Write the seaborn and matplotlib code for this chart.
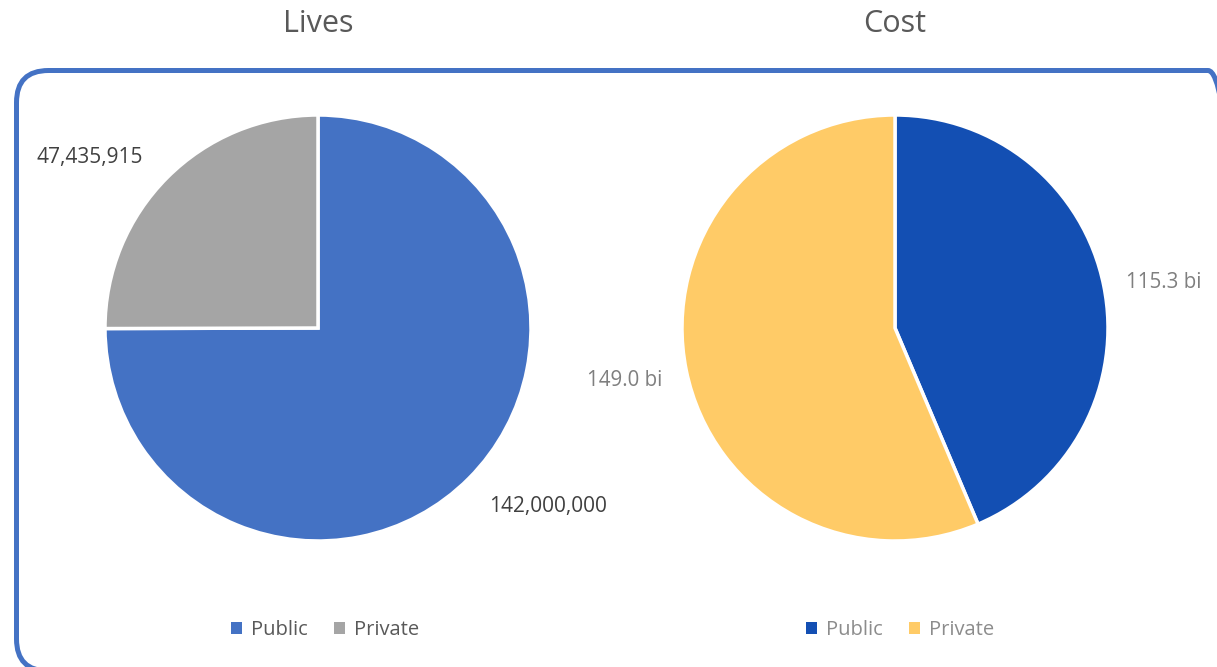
import matplotlib
matplotlib.use("Agg")
import matplotlib.pyplot as plt
from matplotlib.patches import FancyBboxPatch
import seaborn as sns
import numpy as np

# ---- data ----
categories = ["Public", "Private"]
lives_values = [142000000, 47435915]
lives_labels = ["142,000,000", "47,435,915"]
cost_values = [115.3, 149.0]
cost_labels = ["115.3 bi", "149.0 bi"]
titles = ["Lives", "Cost"]

lives_colors = ["#4472C4", "#A5A5A5"]
cost_colors = ["#134FB3", "#FFCB67"]

sns.set_theme(style="white")
plt.rcParams["font.family"] = ["Open Sans", "DejaVu Sans"]
plt.rcParams["savefig.bbox"] = None

W, H = 1217, 667
fig = plt.figure(figsize=(W / 100, H / 100), dpi=100)
fig.patch.set_facecolor("white")

R = 213
def add_pie_axes(cx, cy):
    return fig.add_axes([(cx - R) / W, (H - cy - R) / H, 2 * R / W, 2 * R / H])

ax1 = add_pie_axes(318, 328)
ax2 = add_pie_axes(895, 328)

def draw(ax, values, labels, colors, label_color, label_pos, fs):
    wedges, texts = ax.pie(values, labels=labels, colors=colors, startangle=90,
                           counterclock=False, labeldistance=1.3,
                           wedgeprops=dict(edgecolor="white", linewidth=2.5),
                           textprops=dict(fontsize=fs, color=label_color))
    for t, p in zip(texts, label_pos):
        if p is not None:
            t.set_position(p)
        t.set_ha("center")
        t.set_va("center")
    ax.set_xlim(-1, 1)
    ax.set_ylim(-1, 1)
    ax.set_aspect("auto")
    ax.axis("off")
    return wedges

w1 = draw(ax1, lives_values, lives_labels, lives_colors, "#404040",
          [(1.08, -0.84), (-1.07, 0.80)], 15)
w2 = draw(ax2, cost_values, cost_labels, cost_colors, "#7F7F7F",
          [(1.26, 0.215), (-1.27, -0.245)], 14.8)

# titles
fig.text(318 / W, 1 - 24 / H, titles[0], ha="center", va="center", fontsize=22, color="#595959")
fig.text(895 / W, 1 - 24 / H, titles[1], ha="center", va="center", fontsize=22, color="#595959")

# legends
def legend(ax, wedges, cx, color):
    leg = fig.legend(wedges, categories, loc="center", bbox_to_anchor=(cx / W, 1 - 630 / H),
                     bbox_transform=fig.transFigure, ncol=2, frameon=False,
                     fontsize=14.5, handlelength=0.55, handleheight=0.55,
                     handletextpad=0.45, columnspacing=1.3)
    for t in leg.get_texts():
        t.set_color(color)
    for h in leg.legend_handles:
        h.set_edgecolor("none")

legend(ax1, w1, 325, "#595959")
legend(ax2, w2, 900, "#8C8C8C")

# rounded border box (figure fraction, isotropic rounding)
bx0, bx1, by_top, by_bot, rad = 16.5, 1240, 70.5, 671, 32
box = FancyBboxPatch((bx0 / W, 1 - by_bot / H), (bx1 - bx0) / W, (by_bot - by_top) / H,
                     boxstyle="round,pad=0,rounding_size=%f" % (rad / W),
                     mutation_aspect=W / H,
                     transform=fig.transFigure, facecolor="none",
                     edgecolor="#4472C4", linewidth=3.6, zorder=-1)
box.set_in_layout(False)
fig.add_artist(box)

fig.savefig("out.png", dpi=100, bbox_inches=None)
